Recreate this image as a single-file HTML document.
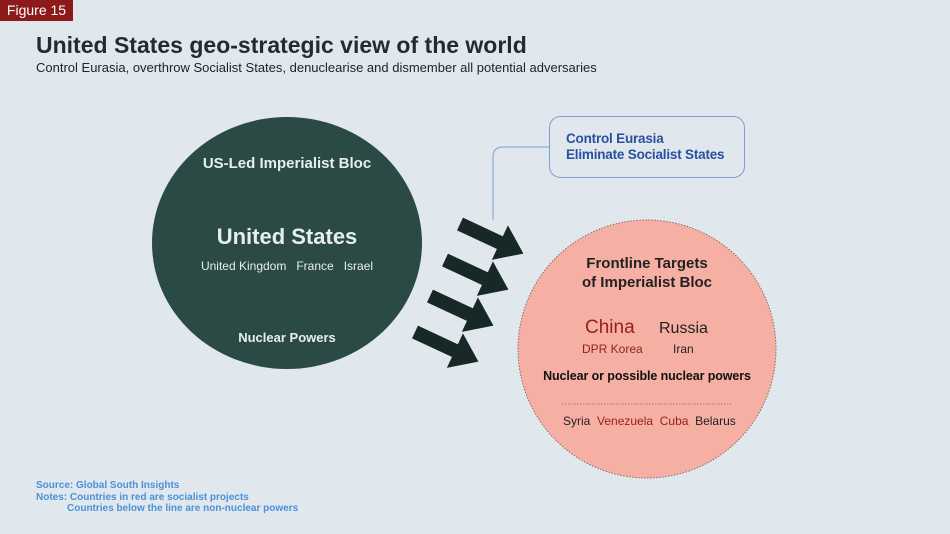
<!DOCTYPE html>
<html><head><style>
body{margin:0;width:950px;height:534px;background:#e1e8ed;font-family:"Liberation Sans",sans-serif;overflow:hidden;position:relative}
.t{position:absolute;white-space:nowrap}
</style></head><body>
<div class="t" style="left:0;top:0;width:73px;height:21px;background:#8c1a1a;color:#fff;font-size:14px;line-height:21px;text-align:center">Figure 15</div>
<div class="t" style="left:36px;top:32px;font-size:23px;font-weight:bold;color:#1e2d2d">United States geo-strategic view of the world</div>
<div class="t" style="left:36px;top:60px;font-size:13px;color:#222">Control Eurasia, overthrow Socialist States, denuclearise and dismember all potential adversaries</div>
<svg width="950" height="534" style="position:absolute;left:0;top:0">
<ellipse cx="287" cy="243" rx="135" ry="126" fill="#2b4a46"/>
<circle cx="647" cy="349" r="129" fill="#f6afa3" stroke="#8a6a66" stroke-width="1" stroke-dasharray="1.5 1.5"/>
<line x1="562" y1="404" x2="732" y2="404" stroke="#a07a75" stroke-width="1" stroke-dasharray="1.5 1.5"/>
<rect x="549.5" y="116.5" width="195" height="61" rx="11" fill="#e1e8ed" stroke="#7f9fd2"/>
<path d="M549 147 H503 Q493 147 493 157 V220" fill="none" stroke="#7f9fd2"/>
<g fill="#172826">
<g transform="translate(460,224) rotate(25)"><rect x="0" y="-7" width="48" height="14"/><polygon points="44,-19 70,0 44,19"/></g>
<g transform="translate(445,260) rotate(25)"><rect x="0" y="-7" width="48" height="14"/><polygon points="44,-19 70,0 44,19"/></g>
<g transform="translate(430,296) rotate(25)"><rect x="0" y="-7" width="48" height="14"/><polygon points="44,-19 70,0 44,19"/></g>
<g transform="translate(415,332) rotate(25)"><rect x="0" y="-7" width="48" height="14"/><polygon points="44,-19 70,0 44,19"/></g>
</g>
</svg>
<div class="t" style="left:566px;top:131px;font-size:13.5px;font-weight:bold;color:#2a4fa0;line-height:16px;letter-spacing:-0.2px">Control Eurasia<br>Eliminate Socialist States</div>
<div class="t" style="left:152px;width:270px;text-align:center;top:155px;font-size:15px;font-weight:bold;color:#e8eeee">US-Led Imperialist Bloc</div>
<div class="t" style="left:152px;width:270px;text-align:center;top:224px;font-size:22px;font-weight:bold;color:#e8eeee">United States</div>
<div class="t" style="left:152px;width:270px;text-align:center;top:259px;font-size:12px;color:#e8eeee">United Kingdom&nbsp;&nbsp;&nbsp;France&nbsp;&nbsp;&nbsp;Israel</div>
<div class="t" style="left:152px;width:270px;text-align:center;top:330px;font-size:13px;font-weight:bold;color:#e8eeee">Nuclear Powers</div>
<div class="t" style="left:518px;width:258px;text-align:center;top:254px;font-size:15px;font-weight:bold;color:#222;line-height:19px">Frontline Targets<br>of Imperialist Bloc</div>
<div class="t" style="left:585px;top:317px;font-size:19px;color:#951f1f">China</div>
<div class="t" style="left:659px;top:320px;font-size:16px;color:#222">Russia</div>
<div class="t" style="left:582px;top:342px;font-size:12px;color:#951f1f">DPR Korea</div>
<div class="t" style="left:673px;top:342px;font-size:12px;color:#222">Iran</div>
<div class="t" style="left:518px;width:258px;text-align:center;top:369px;font-size:12.5px;font-weight:bold;color:#111;letter-spacing:-0.1px">Nuclear or possible nuclear powers</div>
<div class="t" style="left:563px;top:414px;font-size:12px;color:#222">Syria&nbsp; <span style="color:#951f1f">Venezuela&nbsp; Cuba</span>&nbsp; Belarus</div>
<div class="t" style="left:36px;top:480px;font-size:10px;font-weight:bold;color:#4a90d9;line-height:11.5px">Source: Global South Insights<br>Notes: Countries in red are socialist projects<br><span style="padding-left:31px">Countries below the line are non-nuclear powers</span></div>
</body></html>
